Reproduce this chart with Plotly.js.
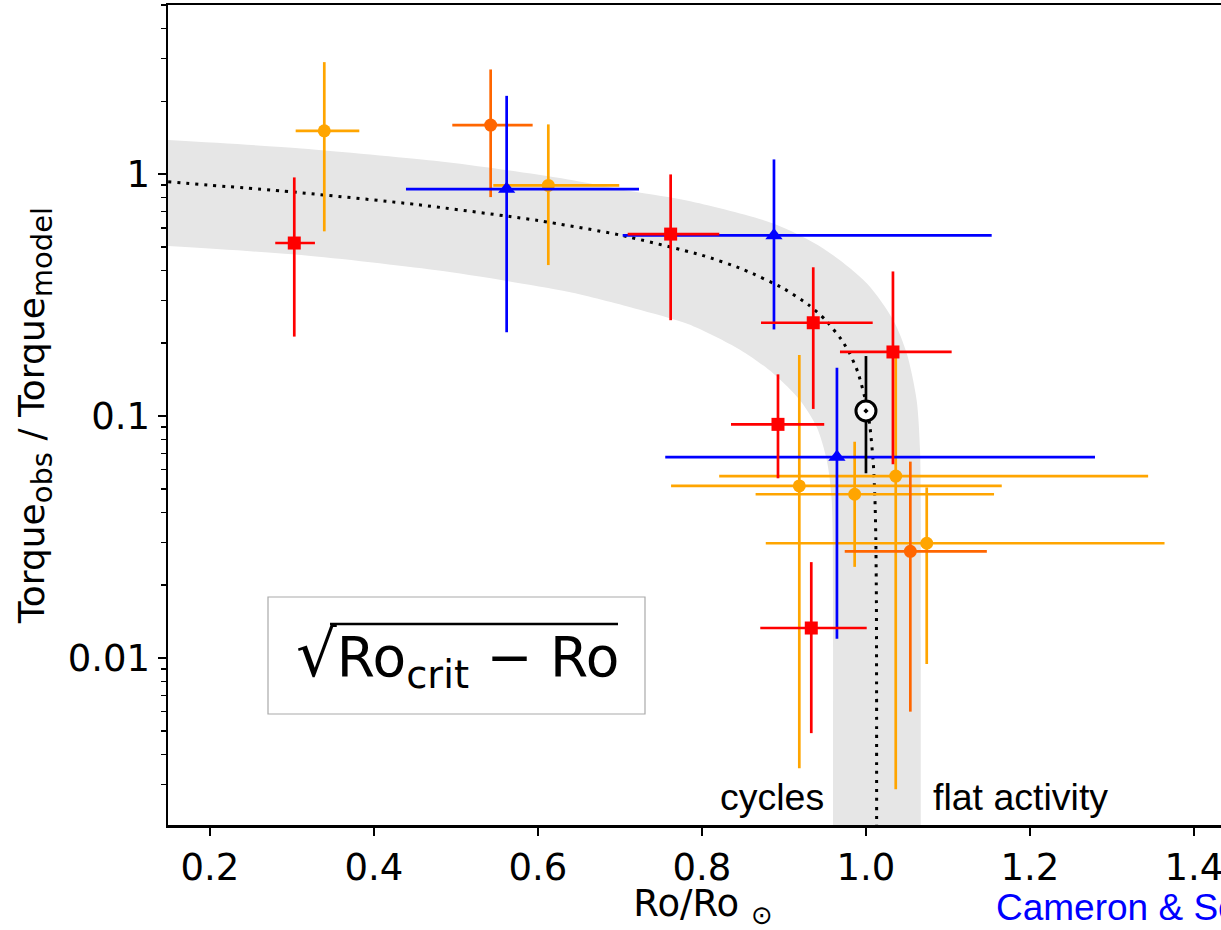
<!DOCTYPE html>
<html>
<head>
<meta charset="utf-8">
<script src="https://cdn.plot.ly/plotly-3.0.1.min.js"></script>
<style>
html, body { margin:0; padding:0; background:#fff; overflow:hidden; }
#wrap { width:1221px; height:930px; overflow:hidden; position:relative; }
#chart { width:1260px; height:930px; }
</style>
</head>
<body>
<div id="wrap"><div id="chart"></div></div>
<script>
// ---- tick labels ----
const xTickVals = [0.2, 0.4, 0.6, 0.8, 1.0, 1.2, 1.4];
const xTickText = ['0.2', '0.4', '0.6', '0.8', '1.0', '1.2', '1.4'];
const yTickVals = [0.01, 0.1, 1];
const yTickText = ['0.01', '0.1', '1'];
const yMinorTicks = [0.002, 0.003, 0.004, 0.005, 0.006, 0.007, 0.008, 0.009,
                     0.02, 0.03, 0.04, 0.05, 0.06, 0.07, 0.08, 0.09,
                     0.2, 0.3, 0.4, 0.5, 0.6, 0.7, 0.8, 0.9,
                     2, 3, 4, 5];

// ---- model curve (dotted) ----
const modelX = [0.149, 0.3, 0.45, 0.6, 0.7, 0.8, 0.85, 0.9, 0.93, 0.95, 0.97, 0.98, 0.99, 1.0, 1.005, 1.009, 1.011, 1.012, 1.0127, 1.01295, 1.013];
const modelY = [0.929, 0.844, 0.750, 0.643, 0.560, 0.462, 0.404, 0.336, 0.288, 0.251, 0.207, 0.182, 0.152, 0.114, 0.0894, 0.0632, 0.0447, 0.0316, 0.0173, 0.0071, 0.0018];

// ---- grey band boundaries ----
const bandUpperX = [0.1488, 0.3113, 0.4740, 0.5552, 0.6366, 0.7179, 0.7829, 0.887, 0.9479, 1.0009, 1.0333, 1.0496, 1.0618, 1.0659, 1.0668, 1.0668, 1.0668, 1.0668, 1.0668];
const bandUpperY = [1.382, 1.277, 1.135, 1.046, 0.951, 0.845, 0.776, 0.625, 0.493, 0.354, 0.249, 0.182, 0.1163, 0.0723, 0.045, 0.012, 0.004, 0.0019, 0.0008];
const bandLowerX = [0.1488, 0.3113, 0.4740, 0.5552, 0.6366, 0.7179, 0.7829, 0.8463, 0.887, 0.9195, 0.9399, 0.9521, 0.9582, 0.9598, 0.9598, 0.9598, 0.9598];
const bandLowerY = [0.504, 0.4626, 0.4012, 0.3648, 0.3263, 0.2786, 0.240, 0.188, 0.150, 0.1163, 0.0901, 0.0659, 0.045, 0.012, 0.004, 0.0019, 0.0008];

// ---- red squares ----
const redX   = [0.3028, 0.7618, 0.9357, 1.0329, 0.8927, 0.9333];
const redY   = [0.519, 0.565, 0.243, 0.184, 0.0924, 0.0133];
const redXlo = [0.2796, 0.7094, 0.8720, 0.9683, 0.8354, 0.8711];
const redXhi = [0.3280, 0.8211, 1.0082, 1.1045, 0.9491, 1.0009];
const redYlo = [0.213, 0.249, 0.107, 0.0632, 0.0553, 0.00489];
const redYhi = [0.969, 0.997, 0.412, 0.396, 0.1487, 0.0249];

// ---- blue triangles ----
const blueX   = [0.5618, 0.8878, 0.9646];
const blueY   = [0.867, 0.558, 0.0677];
const blueXlo = [0.439, 0.7033, 0.7552];
const blueXhi = [0.7232, 1.1533, 1.2793];
const blueYlo = [0.222, 0.228, 0.0120];
const blueYhi = [2.106, 1.150, 0.1583];

// ---- dark orange circles ----
const darkX   = [0.5423, 1.0541];
const darkY   = [1.594, 0.0276];
const darkXlo = [0.4955, 0.9741];
const darkXhi = [0.5935, 1.1474];
const darkYlo = [0.8035, 0.0060];
const darkYhi = [2.707, 0.0648];

// ---- orange circles ----
const orangeX   = [0.3394, 0.6126, 0.9187, 0.9862, 1.0363, 1.0741];
const orangeY   = [1.51, 0.898, 0.0514, 0.0475, 0.0565, 0.0298];
const orangeXlo = [0.3045, 0.5455, 0.7623, 0.8654, 0.821, 0.8778];
const orangeXhi = [0.3821, 0.6991, 1.1656, 1.1562, 1.3441, 1.3641];
const orangeYlo = [0.580, 0.4207, 0.0035, 0.0238, 0.00287, 0.00944];
const orangeYhi = [2.903, 1.605, 0.1787, 0.0783, 0.1753, 0.0507];

// ---- the Sun ----
const sunX = [1.0];
const sunY = [0.105];
const sunYlo = [0.058];
const sunYhi = [0.177];

function plus(hi, v) { return hi.map((h, i) => h - v[i]); }
function minus(lo, v) { return lo.map((l, i) => v[i] - l); }

function series(x, y, xlo, xhi, ylo, yhi, color, symbol, size) {
  return {
    type: 'scatter', mode: 'markers', x: x, y: y, showlegend: false,
    marker: { color: color, symbol: symbol, size: size, line: { width: 0 } },
    error_x: { type: 'data', symmetric: false, array: plus(xhi, x), arrayminus: minus(xlo, x),
               color: color, thickness: 2.7, width: 0 },
    error_y: { type: 'data', symmetric: false, array: plus(yhi, y), arrayminus: minus(ylo, y),
               color: color, thickness: 2.7, width: 0 },
    hoverinfo: 'x+y'
  };
}

const bandX = bandUpperX.concat(bandLowerX.slice().reverse());
const bandY = bandUpperY.concat(bandLowerY.slice().reverse());

const traces = [
  { type: 'scatter', mode: 'lines', x: bandX, y: bandY, fill: 'toself',
    fillcolor: '#e6e6e6', line: { width: 0, color: '#e6e6e6', shape: 'spline', smoothing: 0.8 },
    showlegend: false, hoverinfo: 'skip' },
  { type: 'scatter', mode: 'lines', x: modelX, y: modelY, showlegend: false,
    line: { color: 'black', width: 3, dash: '3px,6px', shape: 'spline', smoothing: 0.6 }, hoverinfo: 'skip' },
  series(orangeX, orangeY, orangeXlo, orangeXhi, orangeYlo, orangeYhi, '#ffa500', 'circle', 13),
  series(darkX, darkY, darkXlo, darkXhi, darkYlo, darkYhi, '#ff6600', 'circle', 13),
  series(blueX, blueY, blueXlo, blueXhi, blueYlo, blueYhi, '#0000ff', 'triangle-up', 15),
  series(redX, redY, redXlo, redXhi, redYlo, redYhi, '#ff0000', 'square', 13),
  { type: 'scatter', mode: 'markers', x: sunX, y: sunY, showlegend: false,
    marker: { symbol: 'circle-dot', color: 'white', size: 20, line: { color: 'black', width: 3 } },
    error_y: { type: 'data', symmetric: false, array: plus(sunYhi, sunY), arrayminus: minus(sunYlo, sunY),
               color: 'black', thickness: 2.7, width: 0 } }
];

const tickFont = { family: 'DejaVu Sans', size: 37, color: 'black' };
const sansFont = { family: 'Liberation Sans, Arial, sans-serif', size: 37.5, color: 'black' };

const layout = {
  width: 1260, height: 930,
  margin: { l: 168, r: 22, t: 5, b: 105 },
  paper_bgcolor: 'white', plot_bgcolor: 'white',
  showlegend: false,
  xaxis: {
    range: [0.1488, 1.4537], autorange: false,
    tickmode: 'array', tickvals: xTickVals, ticktext: xTickText,
    ticks: 'outside', ticklen: 8, tickwidth: 2, tickcolor: 'black',
    showline: true, linecolor: 'black', linewidth: 2.5, mirror: true,
    showgrid: false, zeroline: false,
    tickfont: tickFont,
    title: { text: 'Ro/Ro <sub>⊙</sub>', font: { family: 'DejaVu Sans', size: 37, color: 'black' }, standoff: 13 }
  },
  yaxis: {
    type: 'log', range: [Math.log10(0.00204), Math.log10(5)], autorange: false,
    tickmode: 'array', tickvals: yTickVals, ticktext: yTickText,
    ticks: 'outside', ticklen: 8, tickwidth: 2, tickcolor: 'black',
    minor: { tickmode: 'array', tickvals: yMinorTicks, ticks: 'outside', ticklen: 4.5, tickwidth: 1.5, tickcolor: 'black', showgrid: false },
    showline: true, linecolor: 'black', linewidth: 2.5, mirror: true,
    showgrid: false, zeroline: false,
    tickfont: tickFont,
    title: { text: 'Torque<sub><span style="font-size:29px">obs</span></sub> / Torque<sub><span style="font-size:29px">model</span></sub>',
             font: { family: 'DejaVu Sans', size: 36, color: 'black' }, standoff: 12 }
  },
  shapes: [
    { type: 'rect', xref: 'paper', yref: 'paper', x0: 0.09346, x1: 0.44579, y0: 0.13537, y1: 0.27805,
      fillcolor: 'white', line: { color: '#aaaaaa', width: 1.2 }, layer: 'above' },
    { type: 'line', xref: 'paper', yref: 'paper', x0: 0.1514, x1: 0.42056, y0: 0.24512, y1: 0.24512,
      line: { color: 'black', width: 2.5 }, layer: 'above' }
  ],
  annotations: [
    { xref: 'paper', yref: 'paper', x: 0.2710, y: 0.2049, xanchor: 'center', yanchor: 'middle',
      text: '<span style="font-size:64px">√</span>Ro<sub>crit</sub> − Ro', showarrow: false,
      font: { family: 'DejaVu Sans', size: 55, color: 'black' } },
    { xref: 'paper', yref: 'paper', x: 0.61495, y: 0.0342, xanchor: 'right', yanchor: 'middle',
      text: 'cycles', showarrow: false, font: sansFont },
    { xref: 'paper', yref: 'paper', x: 0.71308, y: 0.0342, xanchor: 'left', yanchor: 'middle',
      text: 'flat activity', showarrow: false, font: sansFont },
    { xref: 'paper', yref: 'paper', x: 0.77196, y: -0.100, xanchor: 'left', yanchor: 'middle',
      text: 'Cameron &amp; Schüssler', showarrow: false,
      font: { family: 'Liberation Sans, Arial, sans-serif', size: 37, color: '#0000ff' } }
  ]
};

Plotly.newPlot('chart', traces, layout, { staticPlot: true, displayModeBar: false });
</script>
</body>
</html>
